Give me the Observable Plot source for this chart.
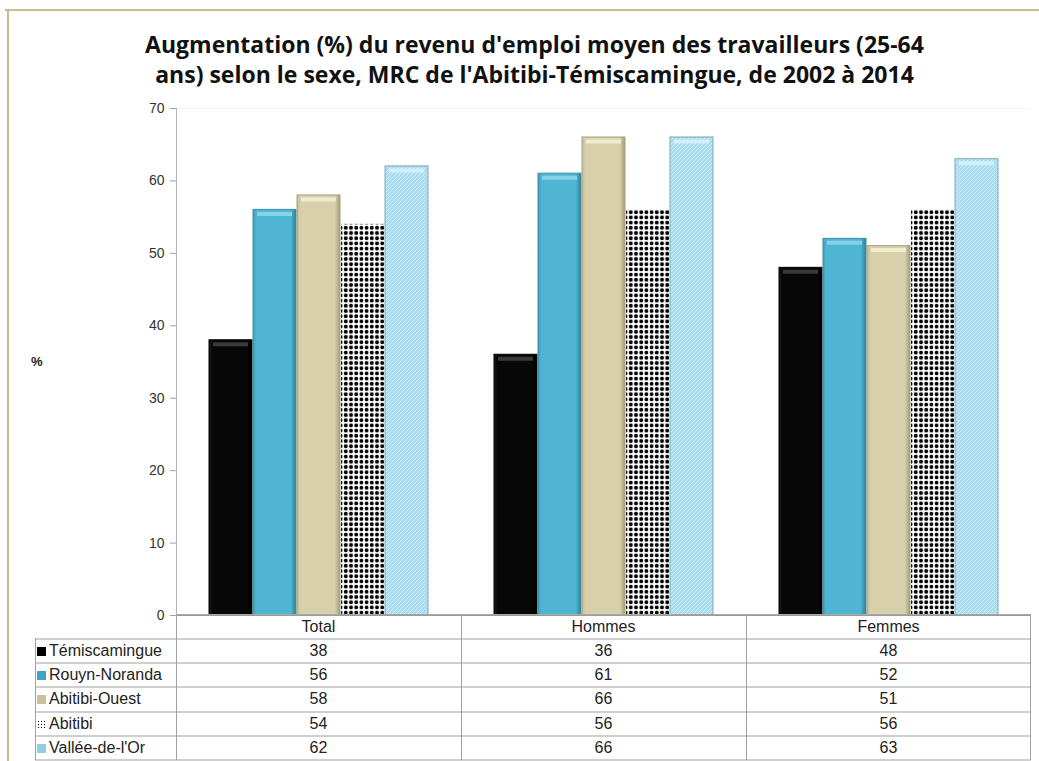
<!DOCTYPE html>
<html>
<head>
<meta charset="utf-8">
<script src="https://cdn.jsdelivr.net/npm/d3@7"></script>
<script src="https://cdn.jsdelivr.net/npm/@observablehq/plot@0.6"></script>
<style>
  html, body { margin: 0; padding: 0; background: #fff; }
  #root { position: relative; width: 1039px; height: 761px; overflow: hidden; font-family: Arial, "Liberation Sans", sans-serif; }
  #frameTop { position: absolute; left: 5px; top: 9px; width: 1034px; height: 2px; background: #cbbd8f; }
  #frameLeft { position: absolute; left: 7px; top: 9px; width: 2px; height: 752px; background: #cbbd8f; }
  #title { position: absolute; left: 30px; top: 29px; width: 1009px; text-align: center; font-family: "Open Sans", Lato, sans-serif; font-weight: bold; font-size: 23px; line-height: 30px; color: #111; letter-spacing: 0px; }
  #ylabel { position: absolute; left: 31px; top: 354px; font-weight: bold; font-size: 13px; color: #222; }
  #chart { position: absolute; left: 0; top: 90px; }
  .cell { position: absolute; box-sizing: border-box; font-size: 16px; color: #222; text-align: center; white-space: nowrap; }
  .hline { position: absolute; height: 2px; background: #cfcfcf; }
  .vline { position: absolute; width: 1px; background: #a0a0a0; }
  .sw { display: inline-block; width: 9px; height: 9px; margin-right: 3px; vertical-align: 0px; }
</style>
</head>
<body>
<div id="root">
  <div id="frameTop"></div>
  <div id="frameLeft"></div>
  <div id="title">Augmentation (%) du revenu d'emploi moyen des travailleurs (25-64<br>ans) selon le sexe, MRC de l'Abitibi-Témiscamingue, de 2002 à 2014</div>
  <div id="ylabel">%</div>
  <div id="chart"></div>
</div>
<script>
// ---- data ----
const groups = ["Total", "Hommes", "Femmes"];
const regions = ["Témiscamingue", "Rouyn-Noranda", "Abitibi-Ouest", "Abitibi", "Vallée-de-l'Or"];
const temiscamingue = [38, 36, 48];
const rouynNoranda = [56, 61, 52];
const abitibiOuest = [58, 66, 51];
const abitibi = [54, 56, 56];
const valleeDeLOr = [62, 66, 63];
const yTicks = [0, 10, 20, 30, 40, 50, 60, 70];

const seriesValues = [temiscamingue, rouynNoranda, abitibiOuest, abitibi, valleeDeLOr];
const data = [];
regions.forEach((r, i) => groups.forEach((g, j) => data.push({region: r, group: g, value: seriesValues[i][j]})));

// styles per region
const fills = ["url(#gTem)", "url(#gRouyn)", "url(#gOuest)", "url(#pDots)", "url(#pHatch)"];
const strokes = ["#000", "#3a8ea6", "#a9a27f", "none", "#7ea8b6"];
const highlights = ["#3a3a3a", "#86d3e8", "#f0ebcf", null, "#d2f0f9"];
const swatches = ["#000", "#3aa6c4", "#c9c19a", "radial-gradient(circle, #000 40%, #fff 45%) 0 0/3px 3px", "#8fcfe4"];

const marks = [
  Plot.axisY({ticks: yTicks, tickSize: 6, tickPadding: 6, fontSize: 14, fill: "#333", stroke: "#a0a0a0", label: null}),
  Plot.ruleY([70], {stroke: "#f2f2f2"}),
  Plot.frame({anchor: "left", facetAnchor: "left", stroke: "#b4b4b4"}),
];
regions.forEach((r, i) => {
  const sub = data.filter(d => d.region === r);
  marks.push(Plot.barY(sub, {fx: "group", x: "region", y: "value", fill: fills[i], stroke: strokes[i], strokeWidth: 1}));
  if (highlights[i]) {
    marks.push(Plot.tickY(sub, {fx: "group", x: "region", y: "value", stroke: highlights[i], strokeWidth: 4, inset: 4, dy: 4}));
  }
});
marks.push(Plot.ruleY([0], {stroke: "#9a9a9a"}));

const plot = Plot.plot({
  width: 1039,
  height: 530,
  marginTop: 18,
  marginBottom: 5,
  marginLeft: 176,
  marginRight: 8,
  fx: {domain: groups, padding: 0, axis: null},
  x: {domain: regions, paddingInner: 0.03, paddingOuter: 0.74, axis: null},
  y: {domain: [0, 70], axis: null},
  style: {fontFamily: "Arial, 'Liberation Sans', sans-serif", background: "transparent", overflow: "visible"},
  marks
});

// defs: gradients and patterns
const svg = d3.select(plot.tagName === "svg" ? plot : plot.querySelector("svg"));
const defs = svg.insert("defs", ":first-child");
function hgrad(id, edgeL, base, edgeR) {
  const g = defs.append("linearGradient").attr("id", id).attr("x1", 0).attr("x2", 1).attr("y1", 0).attr("y2", 0);
  g.append("stop").attr("offset", "0").attr("stop-color", edgeL);
  g.append("stop").attr("offset", "0.08").attr("stop-color", base);
  g.append("stop").attr("offset", "0.88").attr("stop-color", base);
  g.append("stop").attr("offset", "1").attr("stop-color", edgeR);
}
hgrad("gTem", "#1a1a1a", "#070707", "#000");
hgrad("gRouyn", "#3d9dba", "#4fb5d2", "#2e7f97");
hgrad("gOuest", "#c3bc97", "#d7d0ab", "#a49d7b");
const pd = defs.append("pattern").attr("id", "pDots").attr("patternUnits", "userSpaceOnUse").attr("width", 5.2).attr("height", 5.2);
pd.append("rect").attr("width", 5.2).attr("height", 5.2).attr("fill", "#fff");
pd.append("circle").attr("cx", 2.6).attr("cy", 2.6).attr("r", 1.95).attr("fill", "#000");
const ph = defs.append("pattern").attr("id", "pHatch").attr("patternUnits", "userSpaceOnUse").attr("width", 4).attr("height", 4);
ph.append("rect").attr("width", 4).attr("height", 4).attr("fill", "#a9dcee");
ph.append("path").attr("d", "M-1,1 L1,-1 M0,4 L4,0 M3,5 L5,3").attr("stroke", "#d0eef8").attr("stroke-width", 0.9);

document.getElementById("chart").appendChild(plot);

// ---- data table below the chart, aligned with the fx scale ----
const root = document.getElementById("root");
const fx = plot.scale("fx");
const y = plot.scale("y");
const chartTop = 90;
const tableTop = chartTop + y.apply(0);
const headerH = 24;
const rowH = 24.2;
const labelLeft = 35;
const leftEdge = fx.apply(groups[0]);
const rightEdge = fx.apply(groups[groups.length - 1]) + fx.bandwidth;
function add(cls, styleObj, html) {
  const d = document.createElement("div");
  d.className = cls;
  Object.assign(d.style, styleObj);
  if (html != null) d.innerHTML = html;
  root.appendChild(d);
  return d;
}
// header
groups.forEach(g => {
  add("cell", {left: fx.apply(g) + "px", top: tableTop + "px", width: fx.bandwidth + "px", height: headerH + "px", lineHeight: headerH + "px"}, g);
});
// rows
regions.forEach((r, i) => {
  const top = tableTop + headerH + i * rowH;
  add("cell", {left: (labelLeft + 2) + "px", top: top + "px", height: rowH + "px", lineHeight: rowH + "px", textAlign: "left"},
      `<span class="sw" style="background:${swatches[i]}"></span>${r}`);
  groups.forEach((g, j) => {
    add("cell", {left: fx.apply(g) + "px", top: top + "px", width: fx.bandwidth + "px", height: rowH + "px", lineHeight: rowH + "px"}, seriesValues[i][j]);
  });
});
// grid lines
const bottom = tableTop + headerH + regions.length * rowH;
add("hline", {left: leftEdge + "px", top: (tableTop - 1) + "px", width: (rightEdge - leftEdge) + "px", background: "#a8a8a8", height: "1px"});
for (let i = 0; i <= regions.length; i++) {
  const t = tableTop + headerH + i * rowH - 1;
  add("hline", {left: labelLeft + "px", top: t + "px", width: (rightEdge - labelLeft) + "px"});
}
add("vline", {left: labelLeft + "px", top: (tableTop + headerH - 1) + "px", height: (bottom - tableTop - headerH + 1) + "px"});
[leftEdge, ...groups.slice(1).map(g => fx.apply(g)), rightEdge - 1].forEach(x => {
  add("vline", {left: x + "px", top: tableTop + "px", height: (bottom - tableTop) + "px"});
});
</script>
</body>
</html>
